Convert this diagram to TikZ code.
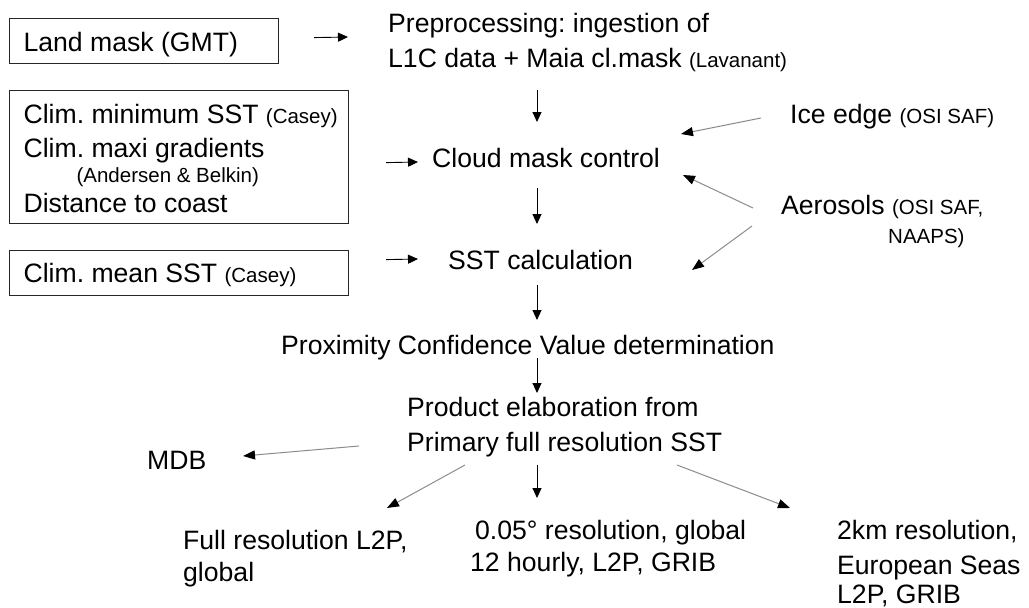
\documentclass[tikz,border=0pt]{standalone}
\usepackage{fontspec}
\setmainfont{Liberation Sans}
\usetikzlibrary{arrows.meta,calc}
\newcommand\sm{\fontsize{20.5}{24}\selectfont}
\newcommand\ind{\hspace*{14pt}}
\frenchspacing
\begin{document}
\frenchspacing
\begin{tikzpicture}[x=1pt,y=-1pt,
  every node/.style={inner sep=0pt, font=\fontsize{26.6}{34}\selectfont\frenchspacing, align=flush left},
  box/.style={draw=black!85, line width=1.2pt, anchor=north west, inner xsep=0pt, inner ysep=0pt},
  txt/.style={anchor=base west, text width=#1},
  txt/.default=460pt,
  varr/.style={draw=black, line width=0.9pt, -{Triangle[length=10pt,width=9pt]}},
  sarr/.style={draw=black!45, line width=1pt, -{Triangle[length=12pt,width=9pt,color=black]}}]
\useasboundingbox (0,0) rectangle (1029,608);
\fill[white] (0,0) rectangle (1029,608);

% boxes on the left
\node[box, text width=269pt, text height=33.2pt, text depth=11.8pt] (land) at (9,18)
  {\ind Land mask (GMT)};
\node[box, text width=339pt, text height=32.5pt, text depth=100.5pt] (clim) at (9,90)
  {\ind Clim. minimum SST {\sm (Casey)}\\[0pt]
   \ind Clim. maxi gradients\\[-9pt]
   \hspace*{67pt}{\sm (Andersen \& Belkin)}\\[-4pt]
   \ind Distance to coast};
\node[box, text width=339pt, text height=31.5pt, text depth=13.5pt] (mean) at (9,250)
  {\ind Clim. mean SST {\sm (Casey)}};

% main chain
\coordinate (spine) at (537,0);
\node[txt] (pre) at (388,32.5) {Preprocessing: ingestion of\\[1pt]L1C data + Maia cl.mask {\sm (Lavanant)}};
\node[anchor=base west] (cloud) at (432,167.5) {Cloud mask control};
\node[anchor=base west] (sst) at (448,269.5) {SST calculation};
\node[anchor=base west] (prox) at (281,354.5) {Proximity Confidence Value determination};
\node[txt] (prod) at (407,416.5) {Product elaboration from\\[1pt]Primary full resolution SST};

% right inputs
\node[anchor=base west] (ice) at (790,123.5) {Ice edge {\sm (OSI SAF)}};
\node[txt=240pt] (aero) at (781,214.5) {Aerosols {\sm (OSI SAF,}\\[-5pt]\hspace*{107pt}{\sm NAAPS)}};

% outputs
\node[anchor=base west] (mdb) at (147,469.5) {MDB};
\node[txt=260pt] (full) at (183,549) {Full resolution L2P,\\[-1.5pt]global};
\node[txt=300pt] (res) at (470,539.5) {\hspace*{5pt}0.05° resolution, global\\[-2pt]12 hourly, L2P, GRIB};
\node[txt=190pt] (km) at (837,539.5) {2km resolution,\\[0.5pt]European Seas\\[-4.5pt]L2P, GRIB};

% horizontal input arrows
\draw[varr] ($(land.east)+(35,-3.5)$) -- ($(pre.base west)+(-40,4.5)$);
\draw[varr] ($(clim.east)+(37,5.5)$) -- ($(cloud.base west)+(-14,-5.5)$);
\draw[varr] ($(mean.east)+(37,-13.5)$) -- ($(sst.base west)+(-30,-10.5)$);

% vertical chain arrows
\draw[varr] ($(spine |- pre.base)+(0,57.5)$) -- ($(spine |- cloud.base)+(0,-45.5)$);
\draw[varr] ($(spine |- cloud.base)+(0,20.5)$) -- ($(spine |- sst.base)+(0,-45.5)$);
\draw[varr] ($(spine |- sst.base)+(0,15.5)$) -- ($(spine |- prox.base)+(0,-34.5)$);
\draw[varr] ($(spine |- prox.base)+(0,3.5)$) -- ($(spine |- prod.base)+(0,-23.5)$);
\draw[varr] ($(spine |- prod.base)+(0,48.5)$) -- ($(spine |- res.base)+(0,-41.5)$);

% slanted arrows
\draw[sarr] ($(ice.base west)+(-29,-5.5)$) -- ($(cloud.base west)+(249,-33.5)$);
\draw[sarr] ($(aero.base west)+(-28,-6.5)$) -- ($(cloud.base west)+(251,7.5)$);
\draw[sarr] ($(aero.base west)+(-29,11.5)$) -- ($(sst.base west)+(244,0.5)$);
\draw[sarr] ($(prod.base west)+(-48,29.5)$) -- ($(mdb.base west)+(96,-13.5)$);
\draw[sarr] ($(prod.base west)+(58,48.5)$) -- ($(full.base west)+(204,-41)$);
\draw[sarr] ($(prod.base west)+(270,48.5)$) -- ($(km.base west)+(-47,-31.5)$);
\end{tikzpicture}
\end{document}
